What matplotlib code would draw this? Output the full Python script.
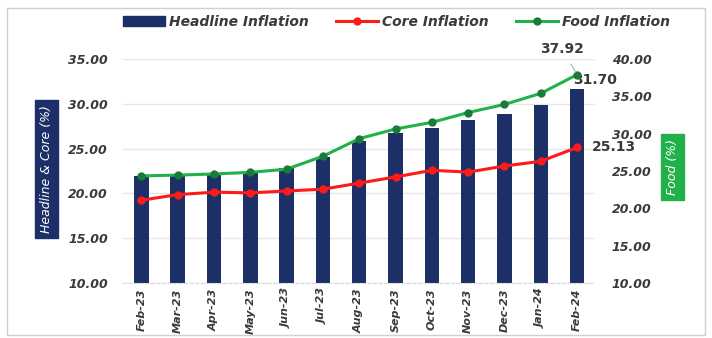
import matplotlib.pyplot as plt
from matplotlib.lines import Line2D
from matplotlib.patches import Patch, FancyBboxPatch

months = ['Feb-23', 'Mar-23', 'Apr-23', 'May-23', 'Jun-23', 'Jul-23', 'Aug-23',
          'Sep-23', 'Oct-23', 'Nov-23', 'Dec-23', 'Jan-24', 'Feb-24']
headline = [21.91, 22.04, 22.22, 22.41, 22.79, 24.08, 25.80, 26.72, 27.33, 28.20, 28.92, 29.90, 31.70]
core = [19.24, 19.86, 20.14, 20.06, 20.27, 20.47, 21.15, 21.84, 22.58, 22.38, 23.06, 23.59, 25.13]
food = [24.35, 24.45, 24.61, 24.82, 25.25, 26.98, 29.34, 30.64, 31.52, 32.84, 33.93, 35.41, 37.92]

navy = '#1c2f66'
red = '#ff1a1a'
green = '#22b04b'
dgreen = '#1a7a3a'
txt = '#3a3a3a'

fig = plt.figure(figsize=(7.12, 3.38), dpi=100)
fig.patch.set_facecolor('white')
ax = fig.add_axes([0.173, 0.163, 0.663, 0.662])
ax2 = ax.twinx()

x = list(range(len(months)))
ax.bar(x, headline, width=0.4, color=navy, zorder=2)
ax.plot(x, core, color=red, lw=2.2, marker='o', ms=5, zorder=3)
ax2.plot(x, food, color=green, lw=2.2, marker='o', ms=5, mfc=dgreen, mec=dgreen, zorder=3)

ax.set_ylim(10, 35)
ax2.set_ylim(10, 40)
ax.set_xlim(-0.5, 12.5)
ax.set_yticks([10, 15, 20, 25, 30, 35])
ax2.set_yticks([10, 15, 20, 25, 30, 35, 40])
ax.yaxis.grid(True, color='#e6e6e6', lw=1, zorder=0)
ax.set_axisbelow(True)

for a in (ax, ax2):
    for s in a.spines.values():
        s.set_visible(False)
ax.spines['bottom'].set_visible(True)
ax.spines['bottom'].set_color('#d9d9d9')
ax.spines['bottom'].set_linestyle((0, (3, 2)))

tick_font = dict(fontsize=9, fontweight='bold', fontstyle='italic', color=txt)
ax.set_xticks(x)
ax.set_xticklabels(months, rotation=90, fontsize=8, fontweight='bold',
                   fontstyle='italic', color=txt)
ax.set_yticklabels(['%.2f' % v for v in ax.get_yticks()], **tick_font)
ax2.set_yticklabels(['%.2f' % v for v in ax2.get_yticks()], **tick_font)
ax.tick_params(axis='y', length=0, pad=11)
ax2.tick_params(axis='y', length=0, pad=12)
ax.tick_params(axis='x', length=0, pad=4)

# value labels on the last month
ax2.annotate('37.92', xy=(12, food[-1]), xytext=(11.6, 41.3), textcoords='data',
             fontsize=10, fontweight='bold', color=txt, ha='center', va='center',
             annotation_clip=False,
             arrowprops=dict(arrowstyle='-', color='#aaaaaa', lw=0.8,
                             shrinkA=4, shrinkB=2))
ax.text(11.9, 32.65, '31.70', fontsize=10, fontweight='bold',
        color=txt, ha='left', va='center', zorder=5)
ax.text(12.4, 25.2, '25.13', fontsize=10, fontweight='bold',
        color=txt, ha='left', va='center', zorder=5)

# axis titles in coloured boxes
fig.text(0.065, 0.50, 'Headline & Core (%)', rotation=90, ha='center', va='center',
         fontsize=9, fontstyle='italic', color='white',
         bbox=dict(boxstyle='square,pad=0.4', fc=navy, ec=navy))
fig.text(0.945, 0.505, 'Food (%)', rotation=90, ha='center', va='center',
         fontsize=9, fontstyle='italic', color='white',
         bbox=dict(boxstyle='square,pad=0.4', fc=green, ec=green))

handles = [Patch(color=navy),
           Line2D([], [], color=red, lw=2.2, marker='o', ms=5),
           Line2D([], [], color=green, lw=2.2, marker='o', ms=5, mfc=dgreen, mec=dgreen)]
fig.legend(handles, ['Headline Inflation', 'Core Inflation', 'Food Inflation'],
           loc='center', bbox_to_anchor=(0.557, 0.935), ncol=3, frameon=False,
           prop=dict(size=10, weight='bold', style='italic'), labelcolor=txt,
           handlelength=3.0, columnspacing=2.0, handletextpad=0.3)

# light outer frame
fig.patches.append(FancyBboxPatch((0.01, 0.01), 0.98, 0.965, boxstyle='square,pad=0',
                                  transform=fig.transFigure, fill=False,
                                  ec='#d0d0d0', lw=1))

fig.savefig('out.png', dpi=100)
